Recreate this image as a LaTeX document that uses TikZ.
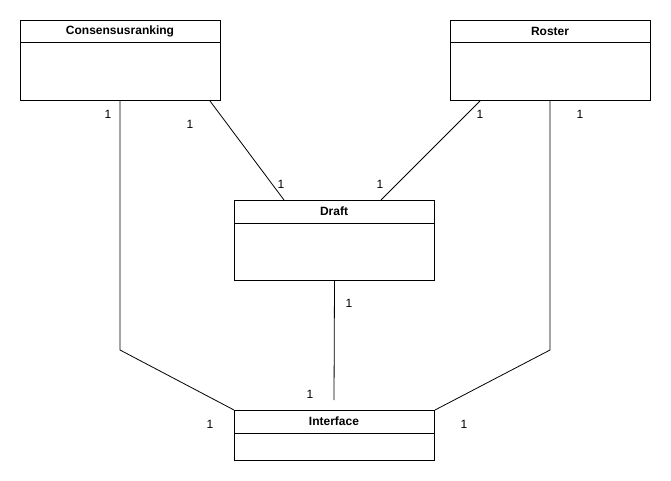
\documentclass[tikz,border=0pt]{standalone}
\usepackage{fontspec}
\setmainfont{Liberation Sans}
\begin{document}
\begin{tikzpicture}[x=1pt,y=-1pt,
  cls/.style={draw,line width=1pt,minimum width=200pt,minimum height=80pt,inner sep=0pt,anchor=north west},
  ttl/.style={font=\fontsize{12}{14}\selectfont\bfseries,inner sep=0pt},
  mult/.style={font=\fontsize{12}{14}\selectfont,inner sep=0pt},
  conn/.style={line width=0.8pt}]
\useasboundingbox (0,0) rectangle (671,481);
% classes
\node[cls] (cons) at (20,20) {};
\node[cls] (roster) at (450,20) {};
\node[cls] (draft) at (234,200) {};
\node[cls,minimum height=50pt] (iface) at (234,410) {};
\draw[line width=1pt] (20,43) -- (220,43) (450,43) -- (650,43) (234,223) -- (434,223) (234,433) -- (434,433);
\node[ttl] (tcons) at (120,31) {Consensusranking};
\node[ttl] (troster) at (550,31) {Roster};
\node[ttl] (tdraft) at (334,211) {Draft};
\node[ttl] (tiface) at (334,421) {Interface};
% connectors
\coordinate (c1) at (120,350);
\coordinate (c2) at (550,350);
\coordinate (dend) at (334,400);
\draw[conn] (cons.south west) ++(100,0) -- (c1) -- (iface.north west);
\draw[conn] (roster.south west) ++(100,0) -- (c2) -- (iface.north east);
\draw[conn] (cons.south west) ++(190,0) -- ([xshift=50pt]draft.north west);
\draw[conn] (roster.south west) ++(30,0) -- ([xshift=147pt]draft.north west);
\draw[conn] (draft.south) -- (dend);
% multiplicities
\node[mult] (m1) at (108,114) {1};
\node[mult] (m2) at (190,124) {1};
\node[mult] (m3) at (281,184) {1};
\node[mult] (m4) at (380,184) {1};
\node[mult] (m5) at (480,114) {1};
\node[mult] (m6) at (580,114) {1};
\node[mult] (m7) at (349,303) {1};
\node[mult] (m8) at (310,394) {1};
\node[mult] (m9) at (210,424) {1};
\node[mult] (m10) at (464,424) {1};
\end{tikzpicture}
\end{document}
